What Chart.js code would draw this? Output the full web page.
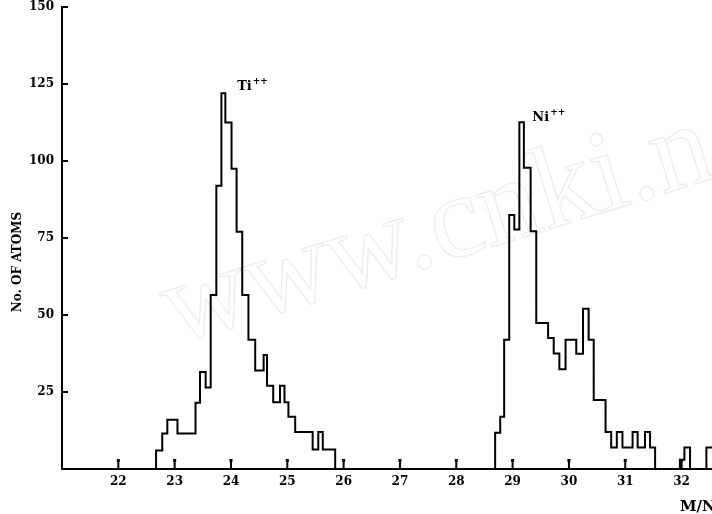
<!DOCTYPE html>
<html>
<head>
<meta charset="utf-8">
<script src="https://cdn.jsdelivr.net/npm/chart.js@4.4.1/dist/chart.umd.min.js"></script>
<style>
  html, body { margin: 0; padding: 0; background: #fff; }
  #wrap { width: 712px; height: 514px; position: relative; }
</style>
</head>
<body>
<div id="wrap"><canvas id="massChart"></canvas></div>
<script>
// left edge of each bin (M/N) and the count in that bin; the count holds until the next edge
const binEdges = [
  21.00, 22.67, 22.78, 22.87, 23.05, 23.37, 23.45, 23.55, 23.64, 23.74,
  23.83, 23.90, 24.01, 24.10, 24.20, 24.31, 24.43, 24.58, 24.64, 24.75,
  24.87, 24.95, 25.02, 25.14, 25.45, 25.55, 25.63, 25.85,
  28.69, 28.78, 28.85, 28.94, 29.03, 29.12, 29.20, 29.32, 29.42, 29.63,
  29.73, 29.83, 29.94, 30.13, 30.25, 30.35, 30.44, 30.65, 30.75, 30.85,
  30.95, 31.13, 31.22, 31.35, 31.44, 31.53, 31.97, 32.05, 32.15, 32.44, 32.60
];
const binCounts = [
  0, 6, 11.5, 16, 11.5, 21.5, 31.5, 26.5, 56.5, 92,
  122, 112.5, 97.5, 77, 56.5, 42, 32, 37, 27, 21.7,
  27, 21.7, 17, 12, 6.3, 12, 6.3, 0,
  11.8, 17, 42, 82.5, 77.8, 112.6, 97.8, 77.2, 47.4, 42.5,
  37.5, 32.4, 42, 37.4, 52, 42, 22.4, 12, 7, 12,
  7, 12, 7, 12, 7, 0, 3, 7, 0, 7, 7
];
const xTicks = [22, 23, 24, 25, 26, 27, 28, 29, 30, 31, 32];
const yTicks = [25, 50, 75, 100, 125, 150];
const peakNames = ['Ti', 'Ni'];
const peakCharge = ['++', '++'];
const peakAt = [[24.11, 123], [29.35, 113]];

const serif = '"DejaVu Serif", "Liberation Serif", serif';

const points = binEdges.map((x, i) => ({ x: x, y: binCounts[i] }));

const extras = {
  id: 'extras',
  beforeDraw(chart) {
    const { ctx } = chart;
    // faint watermark
    ctx.save();
    ctx.translate(175, 345);
    ctx.rotate(-0.3);
    ctx.font = '118px "Liberation Serif", serif';
    ctx.strokeStyle = 'rgba(0,0,0,0.07)';
    ctx.lineWidth = 1.5;
    ctx.strokeText('www.cnki.net', 0, 0);
    ctx.restore();
  },
  afterDraw(chart) {
    const { ctx, chartArea, scales } = chart;
    const x = scales.x, y = scales.y;
    ctx.save();
    ctx.strokeStyle = '#000';
    ctx.fillStyle = '#000';
    ctx.lineWidth = 2;
    // inward tick marks
    xTicks.forEach(v => {
      const px = x.getPixelForValue(v);
      ctx.beginPath();
      ctx.moveTo(px, chartArea.bottom);
      ctx.lineTo(px, chartArea.bottom - 8);
      ctx.stroke();
      ctx.fillRect(px - 1.5, chartArea.bottom - 10, 3, 3);
    });
    yTicks.forEach(v => {
      const py = y.getPixelForValue(v);
      ctx.beginPath();
      ctx.moveTo(chartArea.left, py);
      ctx.lineTo(chartArea.left + 6, py);
      ctx.stroke();
    });

    // peak labels
    peakNames.forEach((name, i) => {
      const px = x.getPixelForValue(peakAt[i][0]);
      const py = y.getPixelForValue(peakAt[i][1]);
      ctx.textAlign = 'left';
      ctx.textBaseline = 'alphabetic';
      ctx.font = 'bold 13px ' + serif;
      ctx.fillText(name, px, py);
      const w = ctx.measureText(name).width;
      ctx.font = 'bold 9px ' + serif;
      ctx.fillText(peakCharge[i], px + w + 1, py - 6);
    });

    // axis titles
    ctx.font = 'bold 12px ' + serif;
    ctx.textAlign = 'center';
    ctx.textBaseline = 'middle';
    ctx.save();
    ctx.translate(18, 262);
    ctx.rotate(-Math.PI / 2);
    ctx.fillText('No. OF ATOMS', 0, 0);
    ctx.restore();

    ctx.font = 'bold 15px ' + serif;
    ctx.textAlign = 'left';
    ctx.fillText('M/N', chartArea.right - 32, 507);
    ctx.restore();
  }
};

new Chart(document.getElementById('massChart'), {
  type: 'line',
  data: {
    datasets: [{
      data: points,
      stepped: 'before',
      borderColor: '#000',
      borderWidth: 2,
      pointRadius: 0,
      fill: false
    }]
  },
  options: {
    responsive: true,
    maintainAspectRatio: false,
    devicePixelRatio: 1,
    animation: false,
    layout: { padding: 0 },
    plugins: {
      legend: { display: false },
      tooltip: { enabled: false }
    },
    scales: {
      x: {
        type: 'linear',
        min: 21,
        max: 32.54,
        afterBuildTicks: s => { s.ticks = xTicks.map(v => ({ value: v })); },
        afterFit: s => { s.height = 45; },
        grid: { display: false, drawTicks: false },
        border: { color: '#000', width: 2 },
        ticks: {
          padding: 6,
          color: '#000',
          font: { family: serif, size: 12, weight: 'bold' }
        }
      },
      y: {
        min: 0,
        max: 150,
        afterBuildTicks: s => { s.ticks = yTicks.map(v => ({ value: v })); },
        afterFit: s => { s.width = 62; s.paddingTop = 7; },
        grid: { display: false, drawTicks: false },
        border: { color: '#000', width: 2 },
        ticks: {
          padding: 8,
          color: '#000',
          font: { family: serif, size: 12, weight: 'bold' }
        }
      }
    }
  },
  plugins: [extras]
});
</script>
</body>
</html>
